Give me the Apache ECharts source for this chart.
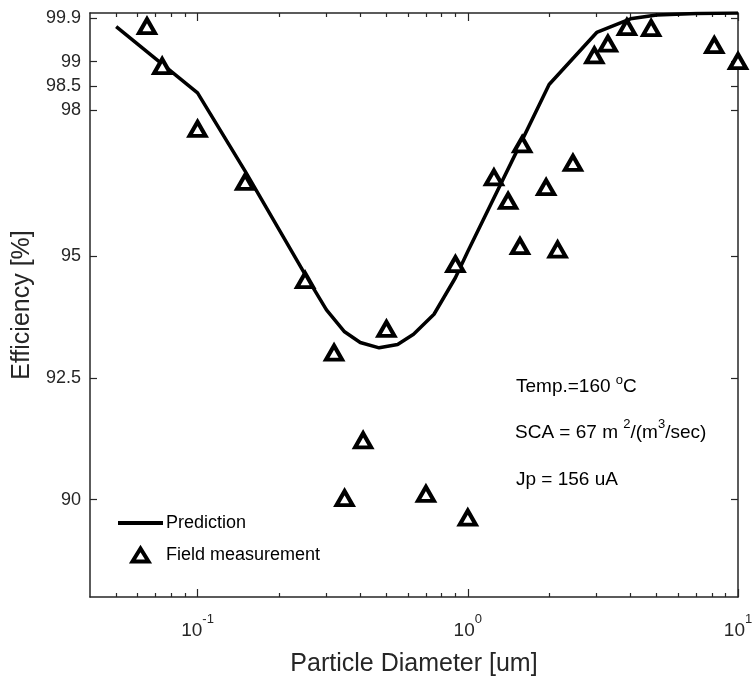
<!DOCTYPE html>
<html>
<head>
<meta charset="utf-8">
<script src="https://cdn.jsdelivr.net/npm/echarts@6/dist/echarts.min.js"></script>
<style>
html,body{margin:0;padding:0;background:#fff;}
#chart{width:752px;height:678px;}
</style>
</head>
<body>
<div id="chart"></div>
<script>
// ---- data ----
const predDiameter = [0.05, 0.1, 0.15, 0.25, 0.3, 0.35, 0.4, 0.47, 0.55, 0.63, 0.75, 0.9, 1.0, 1.5, 2.0, 3.0, 4.0, 5.0, 7.0, 10];
const predEfficiency = [99.72, 98.36, 96.75, 94.63, 93.9, 93.45, 93.23, 93.12, 93.19, 93.40, 93.81, 94.56, 95.1, 97.1, 98.53, 99.6, 99.88, 99.96, 99.99, 100];

const measDiameter = [0.065, 0.074, 0.1, 0.15, 0.25, 0.32, 0.35, 0.41, 0.5, 0.7, 0.9, 1.0, 1.25, 1.41, 1.56, 1.59, 1.95, 2.15, 2.45, 2.94, 3.3, 3.88, 4.77, 8.17, 10];
const measEfficiency = [99.73, 98.91, 97.62, 96.53, 94.51, 93.02, 90.03, 91.22, 93.51, 90.12, 94.84, 89.63, 96.62, 96.14, 95.21, 97.30, 96.42, 95.14, 96.92, 99.13, 99.37, 99.71, 99.69, 99.34, 99.01];

const yTicks = [90, 92.5, 95, 98, 98.5, 99, 99.9];
const xMajorTicks = [0.1, 1, 10];
const xMinorTicks = [0.05, 0.06, 0.07, 0.08, 0.09, 0.2, 0.3, 0.4, 0.5, 0.6, 0.7, 0.8, 0.9, 2, 3, 4, 5, 6, 7, 8, 9];

const seriesNames = ['Prediction', 'Field measurement'];
const annotations = ['Temp.=160 ', 'o', 'C', 'SCA = 67 m', '2', '/(m', '3', '/sec)', 'Jp = 156 uA'];

// ---- chart ----
const FONT = 'Liberation Sans, Arial, Helvetica, sans-serif';
const AX = '#262626';
const chart = echarts.init(document.getElementById('chart'), null, {renderer: 'canvas'});

function xAxisDef(pos, major, withLabels) {
  return {
    type: 'log', logBase: 10, min: 0.04, max: 10, position: pos,
    axisLine: {show: major, lineStyle: {color: AX, width: 1.5}},
    axisTick: {show: true, inside: true, length: major ? 8 : 4,
      customValues: major ? xMajorTicks : xMinorTicks,
      lineStyle: {color: AX, width: 1.2}},
    axisLabel: withLabels ? {
      show: true, margin: 16, customValues: xMajorTicks,
      formatter: function (v) { return '{b|10}{s|' + Math.round(Math.log10(v)) + '}'; },
      rich: {
        b: {fontSize: 19, fontFamily: FONT, color: AX, lineHeight: 27, verticalAlign: 'bottom'},
        s: {fontSize: 13, fontFamily: FONT, color: AX, lineHeight: 13, verticalAlign: 'top'}
      }
    } : {show: false},
    splitLine: {show: false},
    minorTick: {show: false},
    name: withLabels ? 'Particle Diameter [um]' : '',
    nameLocation: 'middle', nameGap: 55,
    nameTextStyle: {fontSize: 25, fontFamily: FONT, color: AX}
  };
}

function yAxisDef(pos, withLabels) {
  return {
    type: 'value', min: 88, max: 100, position: pos,
    axisLine: {show: true, lineStyle: {color: AX, width: 1.5}},
    axisTick: {show: true, inside: true, length: 7, customValues: yTicks, lineStyle: {color: AX, width: 1.2}},
    axisLabel: withLabels ? {show: true, margin: 9, customValues: yTicks,
      fontSize: 18, fontFamily: FONT, color: AX,
      formatter: function (v) { return String(v); }} : {show: false},
    splitLine: {show: false},
    name: withLabels ? 'Efficiency [%]' : '',
    nameLocation: 'middle', nameGap: 46, nameRotate: 90,
    nameTextStyle: {fontSize: 25, fontFamily: FONT, color: AX}
  };
}

function supRich(lh) {
  return {
    b: {fontSize: 19, fontFamily: FONT, color: '#000', lineHeight: lh, verticalAlign: 'bottom'},
    s: {fontSize: 13, fontFamily: FONT, color: '#000', lineHeight: 13, verticalAlign: 'top'}
  };
}

const option = {
  backgroundColor: '#fff',
  animation: false,
  grid: {left: 90, right: 14, top: 13, bottom: 81, containLabel: false, outerBoundsMode: 'none'},
  xAxis: [
    xAxisDef('bottom', true, true),
    xAxisDef('bottom', false, false),
    xAxisDef('top', true, false),
    xAxisDef('top', false, false)
  ],
  yAxis: [yAxisDef('left', true), yAxisDef('right', false)],
  legend: {
    show: true, orient: 'vertical', left: 116, top: 514, padding: 0,
    itemWidth: 45, itemHeight: 16, itemGap: 13,
    textStyle: {fontSize: 18, fontFamily: FONT, color: '#000', padding: [0, 0, 0, -2]},
    data: [
      {name: seriesNames[0], icon: 'path://M0,0 M45,16 M0,6 L45,6 L45,10 L0,10 Z',
        itemStyle: {color: '#000', borderWidth: 0}},
      {name: seriesNames[1], icon: 'path://M0,0 M45,16 M22.5,1.5 L30.5,14.5 L14.5,14.5 Z',
        itemStyle: {color: '#fff', borderColor: '#000', borderWidth: 4}}
    ]
  },
  graphic: [
    {type: 'text', x: 516, y: 385, style: {
      text: '{b|' + annotations[0] + '}{s|' + annotations[1] + '}{b|' + annotations[2] + '}',
      rich: supRich(22), verticalAlign: 'middle'}},
    {type: 'text', x: 515, y: 430, style: {
      text: '{b|' + annotations[3] + ' }{s|' + annotations[4] + '}{b|' + annotations[5] + '}{s|' + annotations[6] + '}{b|' + annotations[7] + '}',
      rich: supRich(25), verticalAlign: 'middle'}},
    {type: 'text', x: 516, y: 478, style: {
      text: '{b|' + annotations[8] + '}',
      rich: supRich(22), verticalAlign: 'middle'}}
  ],
  series: [
    {
      name: seriesNames[0], type: 'line', xAxisIndex: 0, yAxisIndex: 0,
      data: predDiameter.map((d, i) => [d, predEfficiency[i]]),
      showSymbol: false, symbol: 'none', smooth: false,
      lineStyle: {color: '#000', width: 3.5},
      itemStyle: {color: '#000'},
      z: 2
    },
    {
      name: seriesNames[1], type: 'scatter', xAxisIndex: 0, yAxisIndex: 0,
      data: measDiameter.map((d, i) => [d, measEfficiency[i]]),
      symbol: 'triangle', symbolSize: [16, 14], clip: false,
      itemStyle: {color: '#fff', borderColor: '#000', borderWidth: 4, opacity: 1},
      z: 3
    }
  ]
};
chart.setOption(option);
</script>
</body>
</html>
